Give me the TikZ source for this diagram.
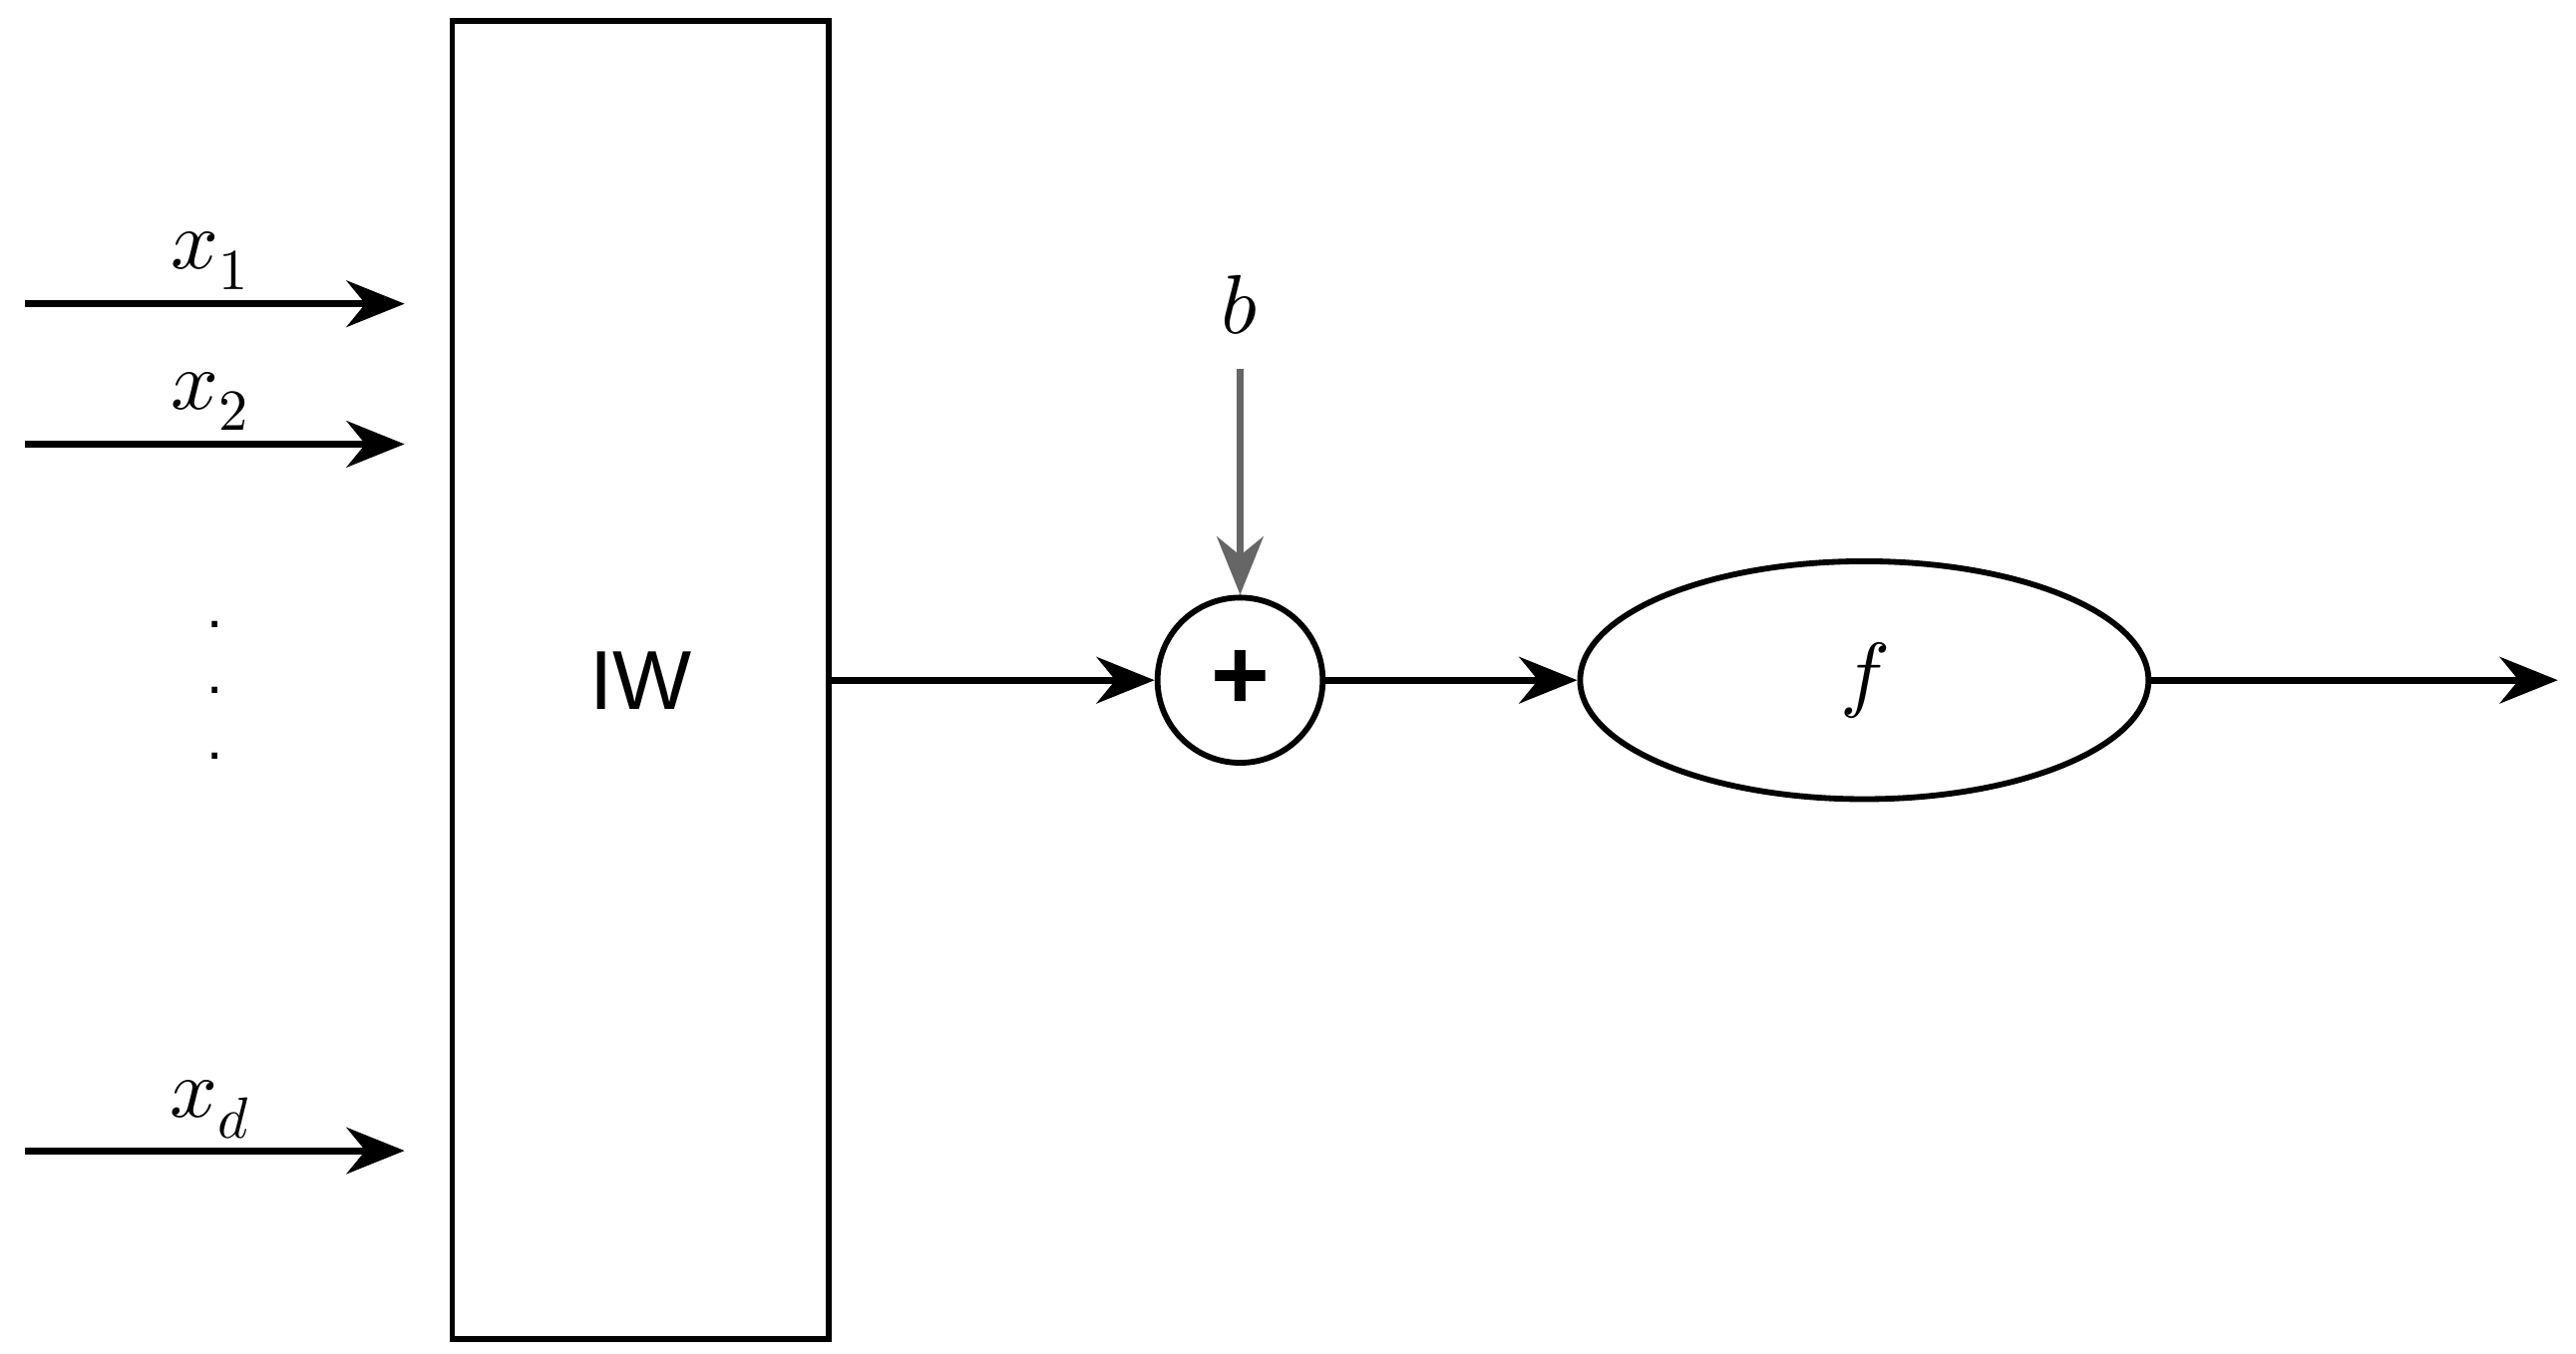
\documentclass[tikz,border=0pt]{standalone}
\usepackage{fontspec}
\setmainfont{Liberation Sans}
\usepackage{unicode-math}
\setmathfont{Latin Modern Math}
\usetikzlibrary{shapes.geometric,arrows.meta}
\begin{document}
\begin{tikzpicture}[x=0.01cm,y=-0.01cm,
  conn/.style={draw=black,line width=1.2pt,-{Stealth[length=10pt,width=8pt]}},
  lbl/.style={font=\Large}]
\useasboundingbox (0,0) rectangle (1560,820);
\node[draw,line width=1pt,minimum width=2.28cm,minimum height=7.98cm] (iw) at (388,412) {\Large IW};
\coordinate (s1) at (15,184); \coordinate (e1) at (245,184);
\coordinate (s2) at (15,269); \coordinate (e2) at (245,269);
\coordinate (sd) at (15,697); \coordinate (ed) at (245,697);
\draw[conn] (s1) -- (e1);
\draw[conn] (s2) -- (e2);
\draw[conn] (sd) -- (ed);
\node[lbl] (l1) at (128,158) {$x_1$};
\node[lbl] (l2) at (128,243) {$x_2$};
\node[lbl] (ld) at (128,672) {$x_d$};
\node (d1) at (130,378) {.};
\node (d2) at (130,418) {.};
\node (d3) at (130,458) {.};
\node[circle,draw,line width=1pt,minimum size=1cm,inner sep=0pt] (sum) at (751,412) {\LARGE\bfseries +};
\node[ellipse,draw,line width=1pt,minimum width=3.44cm,minimum height=1.44cm] (f) at (1129,412) {\Large $f$};
\node[lbl] (b) at (751,185) {$b$};
\coordinate (out) at (1549,412);
\draw[conn] (iw.east) -- (sum.west);
\draw[conn,draw=gray!80!black] (b.south) ++(0,8) -- (sum.north);
\draw[conn] (sum.east) -- (f.west);
\draw[conn] (f.east) -- (out);
\end{tikzpicture}
\end{document}
